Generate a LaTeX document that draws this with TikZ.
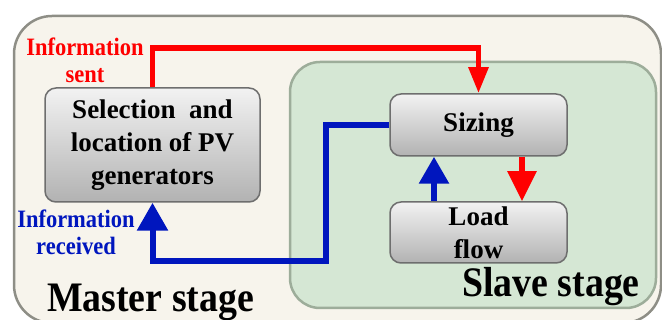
\documentclass[tikz,border=0pt]{standalone}
\usepackage{fontspec}
\setmainfont{Liberation Serif}
\newfontfamily\narrowfont{Liberation Serif}[FakeStretch=0.9]
\usetikzlibrary{arrows.meta}
\definecolor{outerfill}{HTML}{F7F4EC}
\definecolor{outerdraw}{HTML}{8E8E86}
\definecolor{greenfill}{HTML}{D5E7D4}
\definecolor{greendraw}{HTML}{9DAD9A}
\definecolor{boxdraw}{HTML}{6E6E6E}
\definecolor{boxtop}{HTML}{F2F2F2}
\definecolor{boxbot}{HTML}{B2B2B2}
\definecolor{myblue}{RGB}{0,22,190}
\definecolor{myred}{RGB}{255,0,0}
\begin{document}
\begin{tikzpicture}[x=1pt,y=-1pt,
  procbox/.style={draw=boxdraw, line width=1.5pt, rounded corners=11pt,
    top color=boxtop, bottom color=boxbot, align=center, inner sep=0pt,
    font=\fontsize{27}{33}\selectfont\bfseries},
  lab/.style={align=center, inner sep=0pt, font=\narrowfont\fontsize{25}{27}\selectfont\bfseries},
  stagelab/.style={inner sep=0pt, font=\narrowfont\fontsize{42}{46}\selectfont\bfseries},
  redline/.style={draw=myred, line width=5.5pt},
  blueline/.style={draw=myblue, line width=6pt}]
\path[use as bounding box] (0,0) rectangle (662,320);
\begin{scope}
\clip (0,0) rectangle (662,320);
\draw[fill=outerfill, draw=outerdraw, line width=2.5pt, rounded corners=38pt] (14,16) rectangle (661,323);
\end{scope}
\draw[fill=greenfill, draw=greendraw, line width=2.5pt, rounded corners=30pt] (290,62) rectangle (656,308);

\node[procbox, minimum width=215pt, minimum height=114pt] (sel) at (152.5,145) {Selection\ \ and\\location of PV\\generators};
\node[procbox, minimum width=177pt, minimum height=62pt] (siz) at (478.5,125) {Sizing};
\node[procbox, minimum width=177pt, minimum height=61pt] (load) at (478.5,232.5) {Load\\flow};

\coordinate (rtop) at (0,48);
\coordinate (rx) at (522,0);
\coordinate (bx) at (434,0);
\coordinate (bcorner) at (326,261);

\draw[redline, -{Triangle[width=19pt,length=26pt]}] (sel.north) -- (sel.north |- rtop) -| (siz.north);
\draw[redline, -{Triangle[width=28pt,length=30pt]}] (siz.south -| rx) -- (load.north -| rx);
\draw[blueline, -{Triangle[width=29pt,length=27pt]}] (load.north -| bx) -- (siz.south -| bx);
\draw[blueline, -{Triangle[width=30pt,length=28pt]}] (siz.west) -| (bcorner) -| (sel.south);

\node[lab, text=myred] (sent) at (85,60) {Information\\sent};
\node[lab, text=myblue] (recv) at (76,232.5) {Information\\received};
\node[stagelab, anchor=base] (master) at (150.5,312) {Master stage};
\node[stagelab, anchor=base] (slave) at (551,297) {Slave stage};
\end{tikzpicture}
\end{document}
